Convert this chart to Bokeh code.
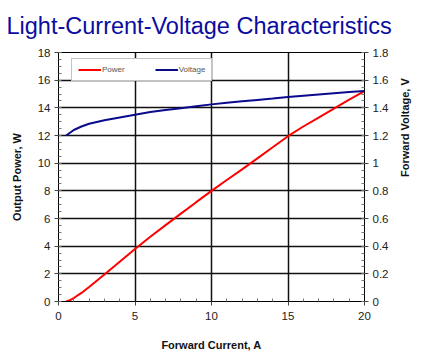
import math
from bokeh.plotting import figure
from bokeh.models import (Range1d, LinearAxis, FixedTicker, Legend, LegendItem,
                          ColumnDataSource)
from bokeh.embed import file_html
from bokeh.resources import INLINE

# ---- data ----
current_a = [0.5, 0.75, 1, 1.5, 2, 3, 4, 5, 6, 7, 8, 9, 10, 11, 12, 13, 14,
             15, 16, 17, 18, 19, 20]
power_w = [0.0, 0.1, 0.25, 0.62, 1.05, 1.95, 2.88, 3.8, 4.68, 5.52, 6.35, 7.18,
           8.0, 8.78, 9.55, 10.35, 11.15, 11.95, 12.65, 13.3, 13.95, 14.6, 15.2]
voltage_v = [1.20, 1.22, 1.24, 1.265, 1.285, 1.31, 1.33, 1.35, 1.37, 1.385,
             1.397, 1.412, 1.425, 1.436, 1.447, 1.457, 1.467, 1.478, 1.487,
             1.496, 1.505, 1.514, 1.522]

x_ticks = [0, 5, 10, 15, 20]
x_minor = [1, 2, 3, 4, 6, 7, 8, 9, 11, 12, 13, 14, 16, 17, 18, 19]
left_ticks = [0, 2, 4, 6, 8, 10, 12, 14, 16, 18]
left_minor = [i * 0.5 for i in range(37)]
right_ticks = [0, 0.2, 0.4, 0.6, 0.8, 1, 1.2, 1.4, 1.6, 1.8]
right_minor = [round(i * 0.05, 2) for i in range(37)]
right_labels = {0: "0", 0.2: "0.2", 0.4: "0.4", 0.6: "0.6", 0.8: "0.8", 1: "1",
                1.2: "1.2", 1.4: "1.4", 1.6: "1.6", 1.8: "1.8"}

FONT = "Liberation Sans"
TICK_COLOR = "#222222"

src = ColumnDataSource(data=dict(i=current_a, p=power_w, v=voltage_v))

p = figure(width=426, height=363, output_backend="svg", toolbar_location=None,
           x_range=Range1d(0, 20), y_range=Range1d(0, 18),
           min_border_left=58, min_border_right=62, min_border_top=52,
           min_border_bottom=62)

p.title.text = "Light-Current-Voltage Characteristics"
p.title.text_font = FONT
p.title.text_font_style = "normal"
p.title.text_font_size = "23.5px"
p.title.text_color = "#0C0CA0"
p.title.offset = -52
p.title.standoff = 23
p.title.vertical_align = "top"

p.background_fill_color = "white"
p.border_fill_color = "white"
p.outline_line_color = "black"
p.outline_line_width = 1

p.extra_y_ranges = {"volt": Range1d(0, 1.8)}

# grids
p.xgrid.ticker = FixedTicker(ticks=x_ticks)
p.ygrid.ticker = FixedTicker(ticks=left_ticks)
for g in (p.xgrid, p.ygrid):
    g.grid_line_color = "#111111"
    g.grid_line_width = 1.5

def style_axis(ax):
    ax.axis_line_color = "black"
    ax.major_tick_line_color = "#444444"
    ax.minor_tick_line_color = "#777777"
    ax.major_tick_in = 0
    ax.major_tick_out = 4
    ax.minor_tick_in = 3
    ax.minor_tick_out = 0
    ax.major_label_text_font = FONT
    ax.major_label_text_font_size = "11.5px"
    ax.major_label_text_color = TICK_COLOR
    ax.axis_label_text_font = FONT
    ax.axis_label_text_font_style = "bold"
    ax.axis_label_text_font_size = "11px"
    ax.axis_label_text_color = "#111111"

xa = p.xaxis[0]
xa.ticker = FixedTicker(ticks=x_ticks, minor_ticks=x_minor)
xa.axis_label = "Forward Current, A"
style_axis(xa)
xa.major_label_standoff = 6
xa.axis_label_standoff = 16

ya = p.yaxis[0]
ya.ticker = FixedTicker(ticks=left_ticks, minor_ticks=left_minor)
ya.axis_label = "Output Power, W"
style_axis(ya)
ya.major_label_standoff = 4
ya.axis_label_standoff = 12

ra = LinearAxis(y_range_name="volt", axis_label="Forward Voltage, V")
ra.ticker = FixedTicker(ticks=right_ticks, minor_ticks=right_minor)
ra.major_label_overrides = right_labels
style_axis(ra)
ra.major_label_standoff = 4
ra.axis_label_standoff = 14
ra.axis_label_orientation = math.pi / 2
p.add_layout(ra, "right")

r_p = p.line("i", "p", source=src, line_color="#FF0000", line_width=2)
r_v = p.line("i", "v", source=src, y_range_name="volt",
             line_color="#0A0A8C", line_width=2)

legend = Legend(items=[LegendItem(label="Power", renderers=[r_p]),
                       LegendItem(label="Voltage", renderers=[r_v])],
                orientation="horizontal", location=(13, 220))
legend.label_text_font = FONT
legend.label_text_font_size = "8px"
legend.label_text_color = "#555555"
legend.glyph_width = 23
legend.glyph_height = 9
legend.label_height = 9
legend.label_standoff = 1
legend.spacing = 30
legend.padding = 6
legend.margin = 0
legend.border_line_color = "#888888"
legend.border_line_width = 1
legend.background_fill_color = "white"
legend.background_fill_alpha = 1
p.add_layout(legend, "center")

open("out.html", "w").write(file_html(p, INLINE))
